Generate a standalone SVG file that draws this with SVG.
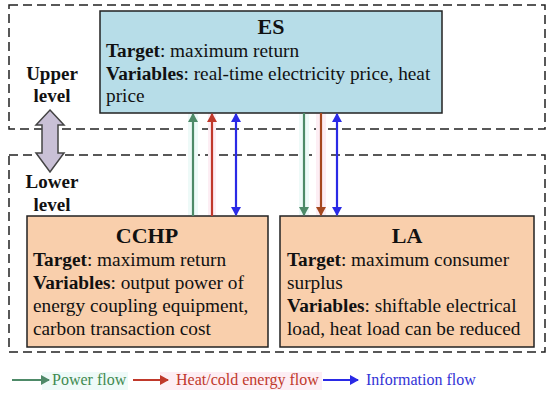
<svg xmlns="http://www.w3.org/2000/svg" width="550" height="393" viewBox="0 0 550 393">
<style>
text{fill:#111}
.t{font-size:19.3px}
.b{font-weight:bold}
.title{font-size:22px;font-weight:bold;text-anchor:middle}
.lvl{font-size:19px;font-weight:bold;text-anchor:middle}
.dash{fill:none;stroke:#222;stroke-width:1.5;stroke-dasharray:9 5}
.box{stroke:#222;stroke-width:1.5}
.g{stroke:#4e8a68;stroke-width:2.2;fill:none}
.r{stroke:#c0392b;stroke-width:2.2;fill:none}
.br{stroke:#a5481e;stroke-width:2.2;fill:none}
.bl{stroke:#2a2ae6;stroke-width:2.2;fill:none}
.leg{font-size:16px}
.bandg{fill:#eefaf8}
.bandr{fill:#fdeef4}
</style>
<defs>
<marker id="mg" markerWidth="10" markerHeight="10" refX="8" refY="5" orient="auto" markerUnits="userSpaceOnUse"><path d="M0,0 L9,5 L0,10 Z" fill="#4e8a68"/></marker>
<marker id="mr" markerWidth="10" markerHeight="10" refX="8" refY="5" orient="auto" markerUnits="userSpaceOnUse"><path d="M0,0 L9,5 L0,10 Z" fill="#c0392b"/></marker>
<marker id="mbr" markerWidth="10" markerHeight="10" refX="8" refY="5" orient="auto" markerUnits="userSpaceOnUse"><path d="M0,0 L9,5 L0,10 Z" fill="#a5481e"/></marker>
<marker id="mb" markerWidth="10" markerHeight="10" refX="8" refY="5" orient="auto-start-reverse" markerUnits="userSpaceOnUse"><path d="M0,0 L9,5 L0,10 Z" fill="#2a2ae6"/></marker>
</defs>
<rect x="0" y="0" width="550" height="393" fill="#fff"/>
<g font-family="Liberation Serif, Times New Roman, serif">
<g id="levels">
<rect class="dash" x="9" y="5" width="536" height="124"/>
<rect class="dash" x="9" y="155" width="536" height="197"/>
<text class="lvl" x="52" y="80">Upper</text>
<text class="lvl" x="52" y="102">level</text>
<text class="lvl" x="52" y="188">Lower</text>
<text class="lvl" x="52" y="211">level</text>
<path d="M50,110 L64,125 L58,125 L58,153 L64,153 L50,172 L36,153 L42,153 L42,125 L36,125 Z" fill="#c9c0d6" stroke="#444" stroke-width="1.5"/>
</g>
<g id="bands">
<rect class="bandg" x="188" y="113" width="10" height="103"/>
<rect class="bandr" x="208" y="113" width="8" height="103"/>
<rect class="bandg" x="299" y="113" width="10" height="103"/>
<rect class="bandr" x="316" y="113" width="10" height="103"/>
</g>
<g id="ES">
<rect class="box" x="100" y="11" width="342" height="102" fill="#b7dde8"/>
<text class="title" x="271" y="34">ES</text>
<text class="t" x="106" y="57"><tspan class="b">Target</tspan>: maximum return</text>
<text class="t" x="106" y="80"><tspan class="b">Variables</tspan>: real-time electricity price, heat</text>
<text class="t" x="106" y="102">price</text>
</g>
<g id="CCHP">
<rect class="box" x="27" y="216" width="241" height="131" fill="#f9cfac"/>
<text class="title" x="147" y="243">CCHP</text>
<text class="t" x="33" y="266"><tspan class="b">Target</tspan>: maximum return</text>
<text class="t" x="33" y="289"><tspan class="b">Variables</tspan>: output power of</text>
<text class="t" x="33" y="312">energy coupling equipment,</text>
<text class="t" x="33" y="335">carbon transaction cost</text>
</g>
<g id="LA">
<rect class="box" x="280" y="216" width="254" height="131" fill="#f9cfac"/>
<text class="title" x="407" y="243">LA</text>
<text class="t" x="287" y="266"><tspan class="b">Target</tspan>: maximum consumer</text>
<text class="t" x="287" y="289">surplus</text>
<text class="t" x="287" y="312"><tspan class="b">Variables</tspan>: shiftable electrical</text>
<text class="t" x="287" y="335">load, heat load can be reduced</text>
</g>
<g id="connectors">
<line class="g" x1="193" y1="216" x2="193" y2="114" marker-end="url(#mg)"/>
<line class="r" x1="212" y1="216" x2="212" y2="114" marker-end="url(#mr)"/>
<line class="bl" x1="236" y1="215" x2="236" y2="114" marker-start="url(#mb)" marker-end="url(#mb)"/>
<line class="g" x1="304" y1="113" x2="304" y2="215" marker-end="url(#mg)"/>
<line class="br" x1="321" y1="113" x2="321" y2="215" marker-end="url(#mbr)"/>
<line class="bl" x1="337" y1="114" x2="337" y2="215" marker-start="url(#mb)" marker-end="url(#mb)"/>
</g>
<g id="legend">
<rect class="bandg" x="42" y="372" width="86" height="18"/>
<rect class="bandr" x="160" y="372" width="162" height="18"/>
<line class="g" x1="12" y1="380" x2="49" y2="380" marker-end="url(#mg)"/>
<text class="leg" x="52" y="385" style="fill:#3f8a50">Power flow</text>
<line class="r" x1="133" y1="380" x2="168" y2="380" marker-end="url(#mr)"/>
<text class="leg" x="176" y="385" style="fill:#c0392b">Heat/cold energy flow</text>
<line class="bl" x1="323" y1="380" x2="358" y2="380" marker-end="url(#mb)"/>
<text class="leg" x="366" y="385" style="fill:#3333d6">Information flow</text>
</g>
</g>
</svg>
